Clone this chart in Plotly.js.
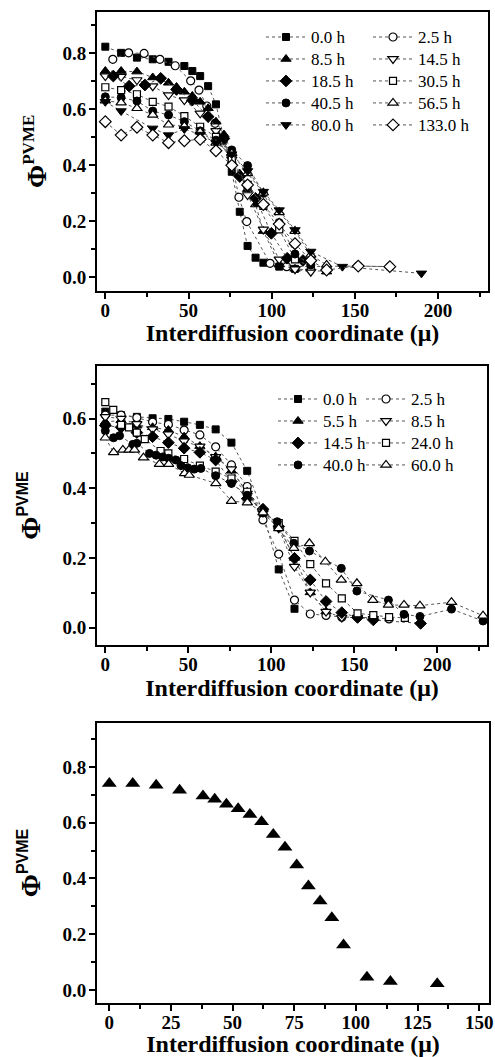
<!DOCTYPE html>
<html>
<head>
<meta charset="utf-8">
<script src="https://cdn.plot.ly/plotly-3.0.1.min.js"></script>
<style>html,body{margin:0;padding:0;background:#fff;} #chart{width:495px;height:1057px;}</style>
</head>
<body>
<div id="chart"></div>
<script>
// ---------- Panel 1 (top) ----------
const p1Labels = ["0.0 h","2.5 h","8.5 h","14.5 h","18.5 h","30.5 h","40.5 h","56.5 h","80.0 h","133.0 h"];
const p1_00_x = [0, 9.5, 19, 28.5, 38, 47.5, 52.3, 57, 61.8, 66.5, 76, 80.8, 85.5, 90.3, 95, 104.5, 114];
const p1_00_y = [0.824, 0.802, 0.785, 0.779, 0.770, 0.755, 0.737, 0.719, 0.683, 0.618, 0.377, 0.234, 0.112, 0.070, 0.052, 0.038, 0.030];
const p1_25_x = [4.5, 14, 23.3, 32.8, 42, 51.3, 56.3, 61, 66, 71, 76, 80.3, 85, 99, 109, 152, 171];
const p1_25_y = [0.779, 0.802, 0.800, 0.779, 0.756, 0.702, 0.669, 0.612, 0.55, 0.49, 0.41, 0.286, 0.199, 0.050, 0.038, 0.040, 0.038];
const p1_85_x = [0, 9.5, 19, 28.5, 38, 42.8, 47.5, 52.3, 57, 61.8, 66.5, 71.3, 76, 80.8, 85.5, 90.3, 95, 104.5, 114, 133];
const p1_85_y = [0.737, 0.737, 0.735, 0.714, 0.695, 0.680, 0.663, 0.648, 0.627, 0.604, 0.556, 0.510, 0.445, 0.370, 0.315, 0.260, 0.165, 0.045, 0.030, 0.020];
const p1_145_x = [0, 9.5, 19, 28.5, 38, 47.5, 57, 66.5, 76, 85.5, 95, 104.5, 114, 123.5];
const p1_145_y = [0.719, 0.717, 0.705, 0.683, 0.651, 0.633, 0.586, 0.523, 0.421, 0.294, 0.171, 0.064, 0.029, 0.020];
const p1_185_x = [4.8, 14.3, 23.8, 33.3, 42.8, 52.3, 61.8, 71.3, 80.8, 90.3, 99.8, 109.3, 118.8];
const p1_185_y = [0.719, 0.683, 0.687, 0.711, 0.671, 0.633, 0.574, 0.496, 0.360, 0.282, 0.157, 0.068, 0.060];
const p1_305_x = [0, 9.5, 19, 28.5, 38, 47.5, 57, 66.5, 76, 85.5, 95, 104.5, 114, 123.5];
const p1_305_y = [0.679, 0.669, 0.654, 0.627, 0.610, 0.576, 0.538, 0.502, 0.419, 0.330, 0.255, 0.171, 0.064, 0.038];
const p1_405_x = [0, 9.5, 19, 28.5, 38, 47.5, 57, 66.5, 76, 85.5, 95, 104.5, 114, 123.5];
const p1_405_y = [0.645, 0.642, 0.630, 0.594, 0.580, 0.556, 0.523, 0.490, 0.455, 0.399, 0.300, 0.195, 0.083, 0.044];
const p1_565_x = [0, 9.5, 19, 28.5, 38, 47.5, 57, 66.5, 76, 85.5, 95, 104.5, 114, 123.5, 133];
const p1_565_y = [0.631, 0.624, 0.604, 0.580, 0.545, 0.540, 0.520, 0.480, 0.443, 0.371, 0.302, 0.232, 0.165, 0.080, 0.044];
const p1_800_x = [0, 9.5, 28.5, 38, 47.5, 57, 66.5, 76, 85.5, 95, 104.5, 114, 123.5, 142.5, 190];
const p1_800_y = [0.627, 0.594, 0.532, 0.508, 0.530, 0.510, 0.480, 0.440, 0.380, 0.306, 0.240, 0.169, 0.092, 0.038, 0.014];
const p1_1330_x = [0, 9.5, 19, 28.5, 38, 47.5, 57, 66.5, 76, 85.5, 95, 104.5, 114, 123.5, 133, 152, 171];
const p1_1330_y = [0.556, 0.508, 0.536, 0.508, 0.481, 0.488, 0.493, 0.452, 0.400, 0.330, 0.260, 0.190, 0.120, 0.060, 0.026, 0.040, 0.038];

// ---------- Panel 2 (middle) ----------
const p2Labels = ["0.0 h","2.5 h","5.5 h","8.5 h","14.5 h","24.0 h","40.0 h","60.0 h"];
const p2_00_x = [0, 9.5, 19, 28.5, 38, 47.5, 57, 66.5, 76, 85.5, 95, 104.5, 114];
const p2_00_y = [0.620, 0.610, 0.605, 0.601, 0.599, 0.591, 0.582, 0.569, 0.531, 0.450, 0.330, 0.167, 0.054];
const p2_25_x = [0, 9.5, 19, 28.5, 38, 47.5, 57, 66.5, 76, 85.5, 95, 104.5, 114, 123.5, 133, 142.5, 152, 161.5, 171];
const p2_25_y = [0.610, 0.610, 0.603, 0.590, 0.583, 0.567, 0.553, 0.519, 0.467, 0.405, 0.309, 0.211, 0.079, 0.039, 0.035, 0.030, 0.030, 0.028, 0.025];
const p2_55_x = [0, 9.5, 19, 28.5, 38, 47.5, 57, 66.5, 76, 85.5, 95, 104.5, 114, 123.5, 133];
const p2_55_y = [0.590, 0.595, 0.580, 0.575, 0.567, 0.548, 0.521, 0.491, 0.450, 0.390, 0.340, 0.290, 0.200, 0.101, 0.046];
const p2_85_x = [0, 9.5, 19, 28.5, 38, 47.5, 57, 66.5, 76, 85.5, 95, 104.5, 114, 123.5, 133, 142.5, 152, 161.5];
const p2_85_y = [0.605, 0.600, 0.585, 0.570, 0.555, 0.535, 0.520, 0.490, 0.455, 0.385, 0.330, 0.285, 0.175, 0.101, 0.046, 0.029, 0.029, 0.025];
const p2_145_x = [0, 9.5, 19, 28.5, 38, 47.5, 57, 66.5, 76, 85.5, 95, 104.5, 114, 123.5, 133, 142.5, 152, 161.5, 190];
const p2_145_y = [0.580, 0.575, 0.560, 0.548, 0.531, 0.515, 0.503, 0.481, 0.419, 0.370, 0.340, 0.290, 0.199, 0.137, 0.075, 0.043, 0.029, 0.022, 0.012];
const p2_240_x = [0, 4.8, 9.5, 14.3, 19, 23.8, 33.3, 38, 47.5, 57, 66.5, 76, 85.5, 95, 104.5, 114, 123.5, 133, 142.5, 152, 161.5, 171, 180.5];
const p2_240_y = [0.647, 0.625, 0.582, 0.575, 0.560, 0.541, 0.507, 0.500, 0.484, 0.465, 0.448, 0.428, 0.390, 0.330, 0.300, 0.249, 0.182, 0.127, 0.084, 0.041, 0.036, 0.030, 0.028];
const p2_400_x = [0, 5, 8.6, 16.6, 19, 26.6, 30.6, 34.6, 38.2, 42.6, 45.6, 49.6, 53.6, 57.6, 66.5, 76, 85.5, 95, 103.6, 113.6, 123, 142.2, 151.6, 170.6, 180, 189.6, 208.6, 227.6];
const p2_400_y = [0.565, 0.545, 0.551, 0.526, 0.529, 0.500, 0.495, 0.490, 0.486, 0.481, 0.465, 0.459, 0.455, 0.457, 0.436, 0.414, 0.380, 0.330, 0.304, 0.242, 0.220, 0.170, 0.105, 0.079, 0.038, 0.032, 0.053, 0.019];
const p2_600_x = [0, 5, 10.6, 14.3, 17.6, 23, 32.6, 38.2, 47.8, 50.6, 66.6, 76, 85.6, 95, 104.5, 113.6, 123, 132.6, 142.2, 151.6, 161.2, 170.6, 180, 189.6, 208.6, 227.6];
const p2_600_y = [0.545, 0.503, 0.510, 0.510, 0.510, 0.488, 0.469, 0.469, 0.443, 0.438, 0.414, 0.363, 0.359, 0.330, 0.285, 0.228, 0.242, 0.189, 0.137, 0.127, 0.079, 0.065, 0.065, 0.063, 0.073, 0.034];

// ---------- Panel 3 (bottom) ----------
const p3_x = [0, 9.5, 19, 28.5, 38, 42.75, 47.5, 52.25, 57, 61.75, 66.5, 71.25, 76, 80.75, 85.5, 90.25, 95, 104.5, 114, 133];
const p3_y = [0.741, 0.741, 0.735, 0.717, 0.696, 0.684, 0.666, 0.650, 0.630, 0.604, 0.558, 0.512, 0.448, 0.373, 0.319, 0.259, 0.161, 0.045, 0.030, 0.022];

const xTitle = "Interdiffusion coordinate (\u03bc)";

// ---------- styles ----------
const SERIF = "'Liberation Serif', 'Times New Roman', Times, serif";
const lineStyle = {dash: "dot", width: 1, color: "#555"};
function mk(symbol, filled, size) {
  return filled
    ? {symbol: symbol, size: size, color: "#000", line: {color: "#000", width: 1}}
    : {symbol: symbol, size: size, color: "#fff", line: {color: "#000", width: 1.2}};
}
function nm(s) { return '<span style="font-size:17px">' + s + '</span>'; }
function tr(x, y, name, marker, xa, ya, legend) {
  return {type: "scatter", mode: "lines+markers", x: x, y: y, name: nm(name), xaxis: xa, yaxis: ya,
          legend: legend, line: lineStyle, marker: marker, cliponaxis: false};
}

const data = [
  tr(p1_00_x, p1_00_y, p1Labels[0], mk("square", true, 7), "x", "y", "legend"),
  tr(p1_25_x, p1_25_y, p1Labels[1], mk("circle", false, 8), "x", "y", "legend2"),
  tr(p1_85_x, p1_85_y, p1Labels[2], mk("triangle-up", true, 9), "x", "y", "legend"),
  tr(p1_145_x, p1_145_y, p1Labels[3], mk("triangle-down", false, 9), "x", "y", "legend2"),
  tr(p1_185_x, p1_185_y, p1Labels[4], mk("diamond", true, 9), "x", "y", "legend"),
  tr(p1_305_x, p1_305_y, p1Labels[5], mk("square", false, 7), "x", "y", "legend2"),
  tr(p1_405_x, p1_405_y, p1Labels[6], mk("circle", true, 8), "x", "y", "legend"),
  tr(p1_565_x, p1_565_y, p1Labels[7], mk("triangle-up", false, 9), "x", "y", "legend2"),
  tr(p1_800_x, p1_800_y, p1Labels[8], mk("triangle-down", true, 9), "x", "y", "legend"),
  tr(p1_1330_x, p1_1330_y, p1Labels[9], mk("diamond", false, 9), "x", "y", "legend2"),

  tr(p2_00_x, p2_00_y, p2Labels[0], mk("square", true, 7), "x2", "y2", "legend3"),
  tr(p2_25_x, p2_25_y, p2Labels[1], mk("circle", false, 8), "x2", "y2", "legend4"),
  tr(p2_55_x, p2_55_y, p2Labels[2], mk("triangle-up", true, 9), "x2", "y2", "legend3"),
  tr(p2_85_x, p2_85_y, p2Labels[3], mk("triangle-down", false, 9), "x2", "y2", "legend4"),
  tr(p2_145_x, p2_145_y, p2Labels[4], mk("diamond", true, 9), "x2", "y2", "legend3"),
  tr(p2_240_x, p2_240_y, p2Labels[5], mk("square", false, 7), "x2", "y2", "legend4"),
  tr(p2_400_x, p2_400_y, p2Labels[6], mk("circle", true, 8), "x2", "y2", "legend3"),
  tr(p2_600_x, p2_600_y, p2Labels[7], mk("triangle-up", false, 9), "x2", "y2", "legend4"),

  {type: "scatter", mode: "markers", x: p3_x, y: p3_y, xaxis: "x3", yaxis: "y3", showlegend: false,
   marker: {symbol: "triangle-up", size: 13, color: "#000"}, cliponaxis: false}
];

const W = 495, H = 1057;
function xd(l, r) { return [l / W, r / W]; }
function yd(t, b) { return [1 - b / H, 1 - t / H]; }

const tickFont = {family: SERIF, size: 19, color: "#000", weight: 700};
const titleFont = {family: SERIF, size: 24, color: "#000", weight: 700};
const yTitleFont = {family: SERIF, size: 28, color: "#000", weight: 700};

function xaxis(domain, anchor, range, dtick) {
  return {domain: domain, anchor: anchor, range: range, dtick: dtick, tick0: 0,
    showline: true, mirror: true, linewidth: 2, linecolor: "#000",
    ticks: "outside", ticklen: 6, tickwidth: 2, tickcolor: "#000", ticklabelstandoff: -5,
    tickprefix: "<b>", ticksuffix: "</b>",
    minor: {ticks: "outside", ticklen: 4, tickwidth: 2, tickcolor: "#000", dtick: dtick / 2},
    showgrid: false, zeroline: false, tickfont: tickFont,
    title: {text: xTitle, font: titleFont, standoff: 4}};
}
function yaxis(domain, anchor, range, titleText, standoff) {
  return {domain: domain, anchor: anchor, range: range, dtick: 0.2, tick0: 0, tickformat: ".1f",
    showline: true, mirror: true, linewidth: 2, linecolor: "#000",
    ticks: "outside", ticklen: 6, tickwidth: 2, tickcolor: "#000", ticklabelstandoff: -1,
    tickprefix: "<b>", ticksuffix: "</b>",
    minor: {ticks: "outside", ticklen: 4, tickwidth: 2, tickcolor: "#000", dtick: 0.1},
    showgrid: false, zeroline: false, tickfont: tickFont,
    title: {text: titleText, font: yTitleFont, standoff: standoff}};
}

const yT1 = "<b>\u03a6<sup><span style=\"font-size:17px\">PVME</span></sup></b>";
const yT2 = "<b>\u03a6<sup><span style=\"font-family:'Liberation Sans', Arial, sans-serif;font-size:16px\">PVME</span></sup></b>";

const legFont = {family: SERIF, size: 14.6, color: "#000"};
function leg(xpx, ypx) {
  return {x: xpx / W, y: 1 - ypx / H, xanchor: "left", yanchor: "top", bgcolor: "rgba(0,0,0,0)",
          borderwidth: 0, font: legFont, tracegroupgap: 0, itemwidth: 40};
}

const layout = {
  width: W, height: H, margin: {l: 0, r: 0, t: 0, b: 0},
  paper_bgcolor: "#fff", plot_bgcolor: "#fff", font: {family: SERIF, color: "#000"},
  xaxis: xaxis(xd(97, 488), "y", [-5, 230], 50),
  yaxis: yaxis(yd(12, 290.7), "x", [-0.048, 0.948], yT1, 8),
  xaxis2: xaxis(xd(97, 487), "y2", [-5, 230], 50),
  yaxis2: yaxis(yd(366, 645), "x2", [-0.05, 0.751], yT2, 14),
  xaxis3: xaxis(xd(97, 489), "y3", [-5, 154], 25),
  yaxis3: yaxis(yd(723, 1003), "x3", [-0.047, 0.958], yT2, 14),
  legend: leg(261, 21),
  legend2: leg(368, 21),
  legend3: leg(273, 383),
  legend4: leg(361, 383)
};

Plotly.newPlot("chart", data, layout, {staticPlot: true, displayModeBar: false});
</script>
</body>
</html>
